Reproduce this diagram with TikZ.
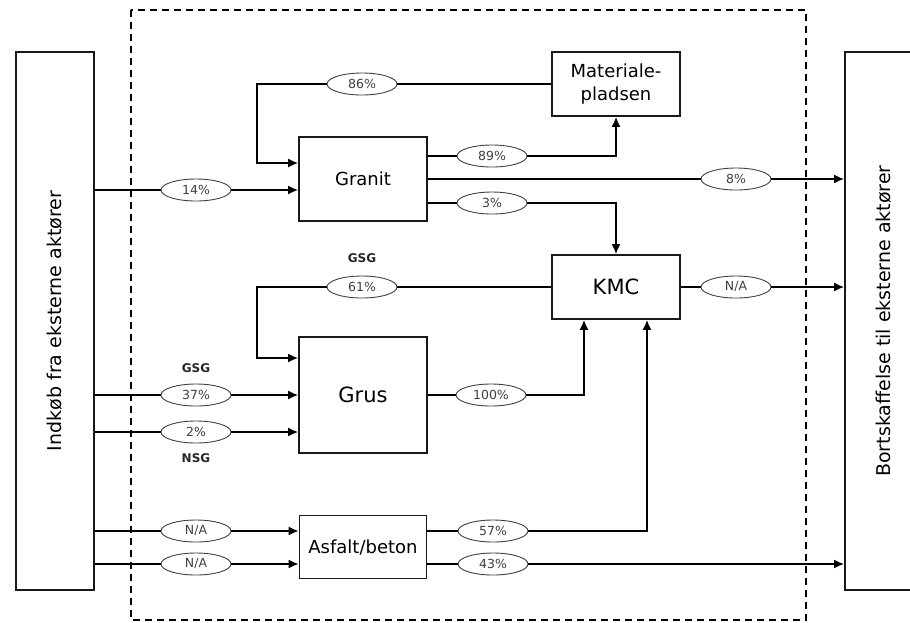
\documentclass[tikz,border=0pt]{standalone}
\usepackage{fontspec}
\setmainfont{DejaVu Sans}
\usetikzlibrary{shapes.geometric, arrows.meta}

\tikzset{
  proces/.style={draw=black!90, fill=white, align=center, inner sep=2pt, minimum width=128pt, font=\fontsize{18}{23}\selectfont},
  aktoer/.style={draw=black!90, fill=white, minimum width=78pt, minimum height=538pt, inner sep=0pt, font=\fontsize{19}{22}\selectfont},
  andel/.style={ellipse, draw=black!75, line width=0.9pt, fill=white, text=black!75, minimum width=70pt, minimum height=22pt, inner sep=0pt, font=\fontsize{12.5}{14}\selectfont},
  type/.style={font=\fontsize{12}{14}\selectfont\bfseries, text=black!85}
}

\begin{document}
\begin{tikzpicture}[x=1pt,y=-1pt,>={Latex[length=10pt,width=9pt]},line width=1.7pt]
\useasboundingbox (0,0) rectangle (910,622);

% systemgraense
\draw[dash pattern=on 7pt off 5pt] (131,10) rectangle (806,620);

% eksterne aktoerer
\node[aktoer] (ind) at (55,321) {\rotatebox{90}{Indkøb fra eksterne aktører}};
\node[aktoer] (ud) at (884,321) {\rotatebox{90}{Bortskaffelse til eksterne aktører}};

% processer
\node[proces, minimum height=64pt] (mat) at (616,84) {Materiale-\\pladsen};
\node[proces, minimum height=84pt] (granit) at (363,179) {Granit};
\node[proces, minimum height=64pt, font=\fontsize{21}{24}\selectfont] (kmc) at (616,287) {KMC};
\node[proces, minimum height=116pt, font=\fontsize{21}{24}\selectfont] (grus) at (363,395) {Grus};
\node[proces, minimum width=127pt, minimum height=63pt] (asf) at (363,547) {Asfalt/beton};

% andele
\node[andel] (p86) at (362,84) {86\%};
\node[andel] (p14) at (196,190) {14\%};
\node[andel] (p89) at (492,156) {89\%};
\node[andel] (p8) at (736,179) {8\%};
\node[andel] (p3) at (492,203) {3\%};
\node[andel] (p61) at (362,287) {61\%};
\node[andel] (pkmc) at (736,287) {N/A};
\node[andel] (p37) at (196,395) {37\%};
\node[andel] (p2) at (196,432) {2\%};
\node[andel] (p100) at (491,395) {100\%};
\node[andel] (pna1) at (196,531) {N/A};
\node[andel] (pna2) at (196,564) {N/A};
\node[andel] (p57) at (493,531) {57\%};
\node[andel] (p43) at (493,564) {43\%};

\node[type] (gsg1) at (362,258) {GSG};
\node[type] (gsg2) at (196,368) {GSG};
\node[type] (nsg) at (196,458) {NSG};

% strømme
\draw[->] (mat.west) -- (p86) -- (257,84) |- ([yshift=16pt]granit.west);
\draw[->] (ind.east |- p14) -- (p14) -- (granit.west |- p14);
\draw[->] (granit.east |- p89) -- (p89) -| (mat.south);
\draw[->] (granit.east |- p8) -- (p8) -- (ud.west |- p8);
\draw[->] (granit.east |- p3) -- (p3) -| (kmc.north);
\draw[->] (kmc.west) -- (p61) -- (257,287) |- ([yshift=37pt]grus.west);
\draw[->] (kmc.east) -- (pkmc) -- (ud.west |- pkmc);
\foreach \p/\m in {p37/grus, p2/grus, pna1/asf, pna2/asf}
   \draw[->] (ind.east |- \p) -- (\p) -- (\m.west |- \p);
\draw[->] (grus.east) -- (p100) -| ([xshift=-32pt]kmc.south);
\draw[->] (asf.east |- p57) -- (p57) -| ([xshift=31pt]kmc.south);
\draw[->] (asf.east |- p43) -- (p43) -- (ud.west |- p43);
\end{tikzpicture}
\end{document}
